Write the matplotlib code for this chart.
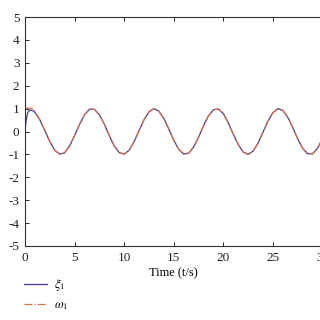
import matplotlib
matplotlib.use("Agg")
import matplotlib.pyplot as plt

plt.rcParams['font.family'] = ['Liberation Serif', 'DejaVu Serif']
plt.rcParams['axes.unicode_minus'] = False
plt.rcParams['mathtext.fontset'] = 'stix'

time = [0, 0.1, 0.2, 0.3, 0.5, 0.75, 1.0, 1.5, 2.0, 2.5, 3.0, 3.5, 4.0, 4.5, 5.0,
        5.5, 6.0, 6.5, 7.0, 7.5, 8.0, 8.5, 9.0, 9.5, 10.0, 10.5, 11.0, 11.5, 12.0,
        12.5, 13.0, 13.5, 14.0, 14.5, 15.0, 15.5, 16.0, 16.5, 17.0, 17.5, 18.0,
        18.5, 19.0, 19.5, 20.0, 20.5, 21.0, 21.5, 22.0, 22.5, 23.0, 23.5, 24.0,
        24.5, 25.0, 25.5, 26.0, 26.5, 27.0, 27.5, 28.0, 28.5, 29.0, 29.5, 30.0]

xi1 = [0.0, 0.42, 0.70, 0.85, 0.93, 0.92, 0.84, 0.50, 0.04, -0.44, -0.82, -0.99, -0.93, -0.63, -0.18,
       0.31, 0.73, 0.97, 0.97, 0.73, 0.32, -0.18, -0.63, -0.92, -0.99, -0.82, -0.45, 0.04, 0.51,
       0.86, 1.00, 0.89, 0.57, 0.11, -0.38, -0.78, -0.98, -0.95, -0.68, -0.25, 0.25,
       0.68, 0.95, 0.98, 0.78, 0.38, -0.11, -0.57, -0.90, -1.00, -0.86, -0.51, -0.03,
       0.45, 0.82, 1.00, 0.92, 0.62, 0.17, -0.32, -0.74, -0.97, -0.97, -0.73, -0.31]

omega1 = [1.00, 1.01, 1.02, 1.02, 1.02, 0.99, 0.88, 0.52, 0.05, -0.44, -0.82, -0.99, -0.93, -0.63, -0.18,
          0.31, 0.73, 0.97, 0.97, 0.73, 0.32, -0.18, -0.63, -0.92, -0.99, -0.82, -0.45, 0.04, 0.51,
          0.86, 1.00, 0.89, 0.57, 0.11, -0.38, -0.78, -0.98, -0.95, -0.68, -0.25, 0.25,
          0.68, 0.95, 0.98, 0.78, 0.38, -0.11, -0.57, -0.90, -1.00, -0.86, -0.51, -0.03,
          0.45, 0.82, 1.00, 0.92, 0.62, 0.17, -0.32, -0.74, -0.97, -0.97, -0.73, -0.31]

xticks = [0, 5, 10, 15, 20, 25, 30]
yticks = [-5, -4, -3, -2, -1, 0, 1, 2, 3, 4, 5]

fig = plt.figure(figsize=(3.2, 3.2), dpi=100)
ax = fig.add_axes([25/320, 1 - 246/320, 297.5/320, 229/320])

l1, = ax.plot(time, xi1, color='#3c3c96', lw=0.9, label=r'$\xi_1$')
l2, = ax.plot(time, omega1, color='#d8704a', lw=0.9, ls='-.', label=r'$\omega_1$')

ax.set_xlim(0, 30)
ax.set_ylim(-5, 5)
ax.set_xticks(xticks)
ax.set_yticks(yticks)
ax.tick_params(direction='in', length=3, width=0.7, top=True, right=False,
               labelsize=9.5, colors='#222222', pad=4)
for s in ax.spines.values():
    s.set_linewidth(0.8)
    s.set_color('#333333')
ax.set_xlabel('Time (t/s)', fontsize=9, labelpad=3)

fig.legend(handles=[l1, l2], loc='upper left', bbox_to_anchor=(19/320, 1 - 272/320),
           frameon=False, fontsize=9, handlelength=1.8, handletextpad=0.6,
           labelspacing=0.5, borderaxespad=0)

fig.savefig('out.png', dpi=100)
